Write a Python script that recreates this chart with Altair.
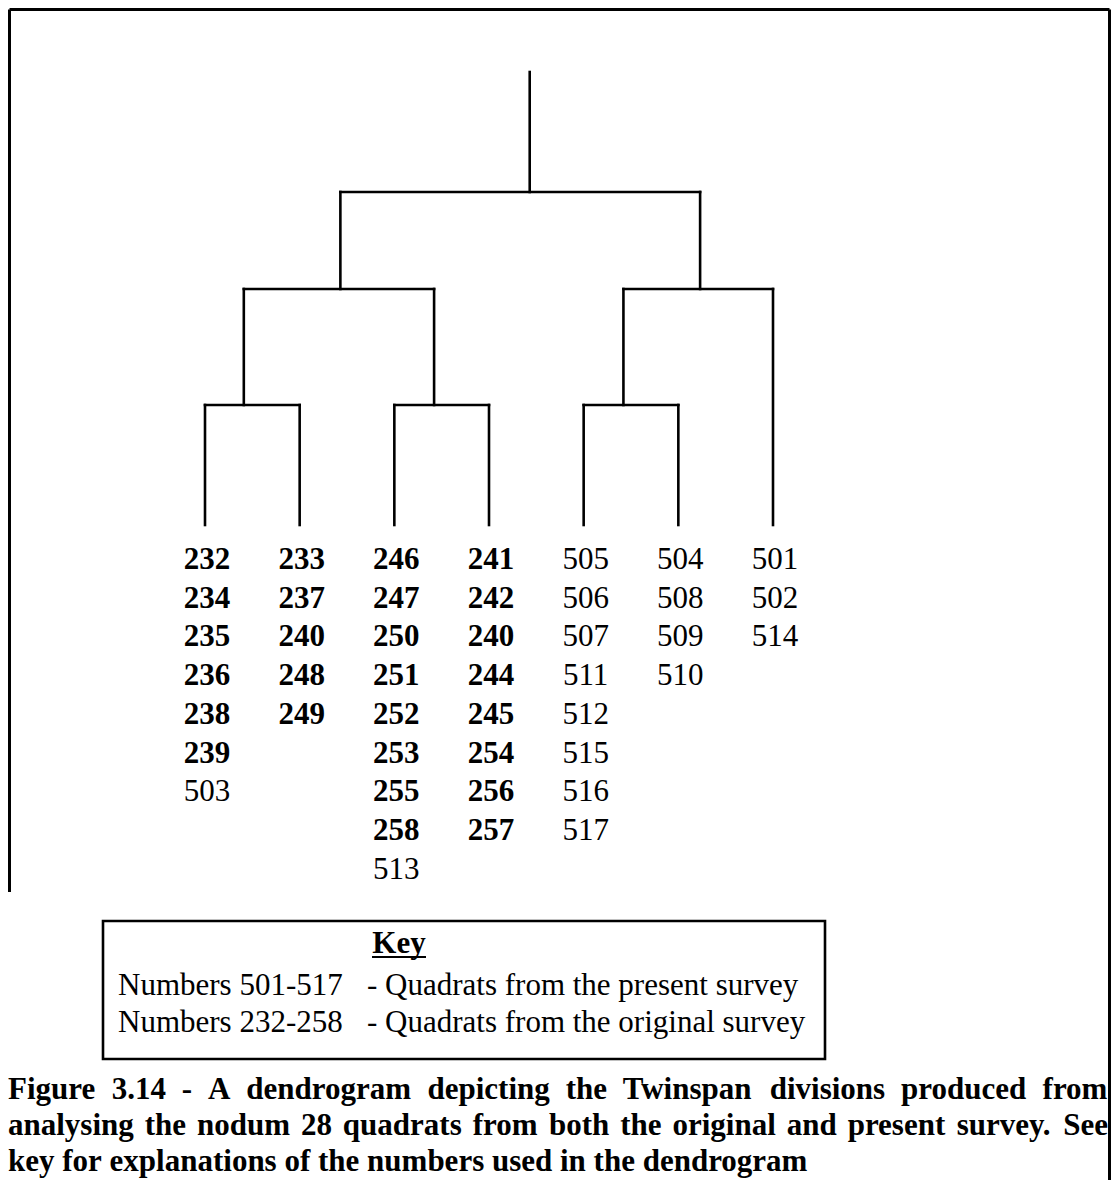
import altair as alt
import pandas as pd

OFF = 8
W, H = 1103, 1172


def px(v):
    return v - OFF


# ---------------- data ----------------
columns = [
    ["232", "234", "235", "236", "238", "239", "503"],
    ["233", "237", "240", "248", "249"],
    ["246", "247", "250", "251", "252", "253", "255", "258", "513"],
    ["241", "242", "240", "244", "245", "254", "256", "257"],
    ["505", "506", "507", "511", "512", "515", "516", "517"],
    ["504", "508", "509", "510"],
    ["501", "502", "514"],
]
leaf_x = [0, 1, 2, 3, 4, 5, 6]
node_names = ["A", "B", "C", "D", "E", "R"]
node_x = [0.41, 2.42, 4.42, 1.43, 5.23, 3.43]
node_h = [1.20, 1.20, 1.20, 2.36, 2.36, 3.33]
node_children = [["L0", "L1"], ["L2", "L3"], ["L4", "L5"], ["A", "B"], ["C", "L6"], ["D", "E"]]
root_top = 4.53

key_title = "Key"
key_ranges = ["Numbers 501-517", "Numbers 232-258"]
key_desc = ["- Quadrats from the present survey", "- Quadrats from the original survey"]
caption_lines = [
    "Figure 3.14 - A dendrogram depicting the Twinspan divisions produced from",
    "analysing the nodum 28 quadrats from both the original and present survey. See",
    "key for explanations of the numbers used in the dendrogram",
]

FONT = "Liberation Serif"

# ---------------- dendrogram segments ----------------
pos = {"L%d" % i: (leaf_x[i], 0.0) for i in range(len(leaf_x))}
for n, x, h in zip(node_names, node_x, node_h):
    pos[n] = (x, h)
segs = []
for n, kids in zip(node_names, node_children):
    x, h = pos[n]
    cxs = [pos[k][0] for k in kids]
    segs.append(dict(x=min(cxs), x2=max(cxs), y=h, y2=h))
    for k in kids:
        cx, ch = pos[k]
        segs.append(dict(x=cx, x2=cx, y=ch, y2=h))
rx, rh = pos["R"]
segs.append(dict(x=rx, x2=rx, y=rh, y2=root_top))
seg_df = pd.DataFrame(segs)

sx = alt.Scale(domain=[0, 6], range=[px(205), px(773)])
sy = alt.Scale(domain=[0, root_top], range=[px(525), px(72)])

tree = alt.Chart(seg_df).mark_rule(color="black", strokeWidth=2.6, strokeCap="square").encode(
    x=alt.X("x:Q", scale=sx, axis=None),
    x2="x2:Q",
    y=alt.Y("y:Q", scale=sy, axis=None),
    y2="y2:Q",
)

# ---------------- leaf labels ----------------
rows = []
for ci, col in enumerate(columns):
    for ri, lab in enumerate(col):
        rows.append(dict(col=leaf_x[ci], row=ri, text=lab, bold=lab.startswith("2")))
lab_df = pd.DataFrame(rows)
srow = alt.Scale(domain=[0, 8], range=[px(569), px(569 + 38.7 * 8)])


def labels(bold):
    return alt.Chart(lab_df[lab_df.bold == bold]).mark_text(
        font=FONT, fontSize=31, fontWeight="bold" if bold else "normal",
        align="center", baseline="alphabetic", dx=2, color="black",
    ).encode(
        x=alt.X("col:Q", scale=sx, axis=None),
        y=alt.Y("row:Q", scale=srow, axis=None),
        text="text:N",
    )


# ---------------- frame ----------------
frame_df = pd.DataFrame([
    dict(x=1.5, x2=W - 1.5, y=1.5, y2=1.5),
    dict(x=1.5, x2=1.5, y=1.5, y2=px(892)),
    dict(x=W - 1.5, x2=W - 1.5, y=1.5, y2=H),
])
frame = alt.Chart(frame_df).mark_rule(color="black", strokeWidth=3).encode(
    x=alt.X("x:Q", scale=None), x2="x2:Q",
    y=alt.Y("y:Q", scale=None), y2="y2:Q",
)

# ---------------- key box ----------------
box = alt.Chart(pd.DataFrame([{"a": 0}])).mark_rect(
    fill=None, stroke="black", strokeWidth=2.6
).encode(
    x=alt.value(px(103)), x2=alt.value(px(825)),
    y=alt.value(px(921)), y2=alt.value(px(1059)),
)
key_t = alt.Chart(pd.DataFrame([{"t": key_title}])).mark_text(
    font=FONT, fontSize=31, fontWeight="bold", align="center", baseline="alphabetic", color="black"
).encode(x=alt.value(px(399)), y=alt.value(px(953)), text="t:N")
key_ul = alt.Chart(pd.DataFrame([{"a": 0}])).mark_rule(color="black", strokeWidth=2).encode(
    x=alt.value(px(372)), x2=alt.value(px(426)), y=alt.value(px(957))
)
key_df = pd.DataFrame(dict(r=key_ranges, d=key_desc, line=[0, 1]))
sline = alt.Scale(domain=[0, 1], range=[px(995), px(1032)])
key_r = alt.Chart(key_df).mark_text(
    font=FONT, fontSize=31, align="left", baseline="alphabetic", color="black"
).encode(x=alt.value(px(118)), y=alt.Y("line:Q", scale=sline, axis=None), text="r:N")
key_d = alt.Chart(key_df).mark_text(
    font=FONT, fontSize=31, align="left", baseline="alphabetic", color="black"
).encode(x=alt.value(px(367)), y=alt.Y("line:Q", scale=sline, axis=None), text="d:N")

# ---------------- caption (justified) ----------------
TB = {" ": 250, "A": 722, "F": 611, "T": 667, "S": 556, ".": 250, "-": 333,
      "a": 500, "b": 556, "c": 444, "d": 556, "e": 444, "f": 333, "g": 500, "h": 556,
      "i": 278, "j": 333, "k": 556, "l": 278, "m": 833, "n": 556, "o": 500, "p": 556,
      "q": 556, "r": 444, "s": 389, "t": 333, "u": 556, "v": 500, "w": 722, "x": 500,
      "y": 500, "z": 444}
CAP_FS = 31
LEFT, RIGHT = px(8), px(1108)


def wwidth(w):
    return sum(TB.get(c, 500) for c in w) / 1000.0 * CAP_FS


cap_rows = []
cap_base = [px(1099), px(1135), px(1171)]
for li, line in enumerate(caption_lines):
    words = line.split(" ")
    widths = [wwidth(w) for w in words]
    if li < len(caption_lines) - 1:
        gap = (RIGHT - LEFT - sum(widths)) / (len(words) - 1)
    else:
        gap = TB[" "] / 1000.0 * CAP_FS
    x = LEFT
    for w, wd in zip(words, widths):
        cap_rows.append(dict(x=x, y=cap_base[li], t=w))
        x += wd + gap
cap_df = pd.DataFrame(cap_rows)
caption = alt.Chart(cap_df).mark_text(
    font=FONT, fontSize=CAP_FS, fontWeight="bold", align="left", baseline="alphabetic", color="black"
).encode(x=alt.X("x:Q", scale=None), y=alt.Y("y:Q", scale=None), text="t:N")

chart = alt.layer(
    frame, tree, labels(True), labels(False), box, key_t, key_ul, key_r, key_d, caption
).resolve_scale(x="independent", y="independent").properties(
    width=W, height=H, padding=0, autosize=alt.AutoSizeParams(type="none"),
    background="white",
).configure_view(stroke=None)

chart.save("out.html", embed_options={"renderer": "svg", "actions": False})
